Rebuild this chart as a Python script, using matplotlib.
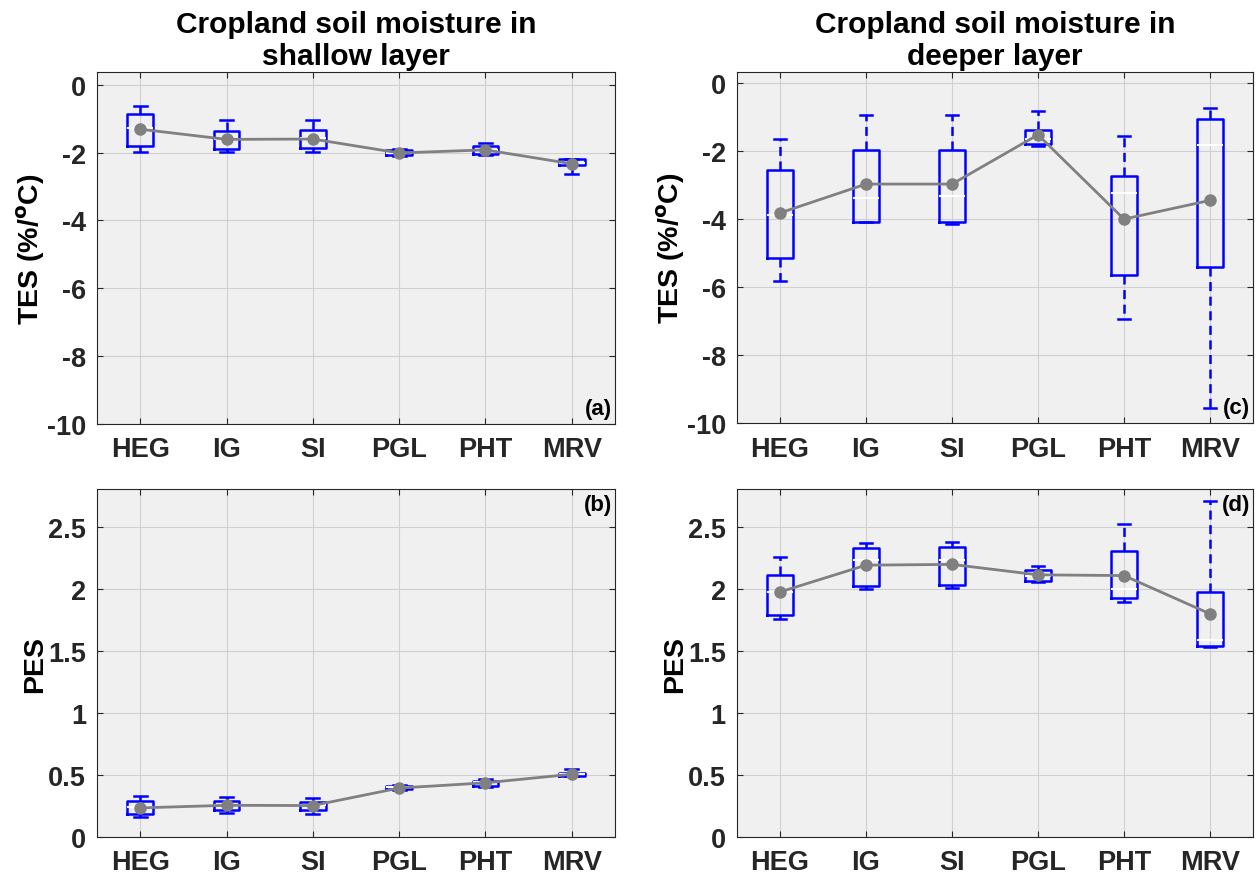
import numpy as np
import matplotlib
matplotlib.use('Agg')
import matplotlib.pyplot as plt

plt.rcParams['font.family'] = ['Liberation Sans', 'DejaVu Sans']
plt.rcParams['font.weight'] = 'bold'
plt.rcParams['mathtext.default'] = 'bf'
plt.rcParams['lines.scale_dashes'] = False

categories = ['HEG', 'IG', 'SI', 'PGL', 'PHT', 'MRV']

# (a) shallow layer TES
a_whishi = [-0.64, -1.05, -1.05, -1.90, -1.72, -2.18]
a_q3 = [-0.87, -1.35, -1.33, -1.93, -1.82, -2.20]
a_med = [-1.27, -1.60, -1.58, -2.00, -1.93, -2.30]
a_q1 = [-1.82, -1.89, -1.87, -2.07, -2.05, -2.38]
a_whislo = [-1.97, -1.99, -1.97, -2.09, -2.08, -2.63]
a_mean = [-1.31, -1.61, -1.60, -2.01, -1.92, -2.33]

# (b) shallow layer PES
b_whishi = [0.327, 0.319, 0.311, 0.42, 0.465, 0.55]
b_q3 = [0.287, 0.287, 0.279, 0.41, 0.452, 0.519]
b_med = [0.24, 0.26, 0.26, 0.40, 0.44, 0.51]
b_q1 = [0.186, 0.221, 0.218, 0.385, 0.412, 0.49]
b_whislo = [0.157, 0.194, 0.186, 0.38, 0.405, 0.487]
b_mean = [0.234, 0.255, 0.253, 0.394, 0.436, 0.505]

# (c) deeper layer TES
c_whishi = [-1.65, -0.93, -0.93, -0.81, -1.55, -0.74]
c_q3 = [-2.55, -1.98, -1.98, -1.37, -2.72, -1.05]
c_med = [-3.87, -3.38, -3.33, -1.65, -3.22, -1.82]
c_q1 = [-5.13, -4.09, -4.10, -1.79, -5.64, -5.41]
c_whislo = [-5.81, -4.09, -4.14, -1.86, -6.93, -9.56]
c_mean = [-3.82, -2.97, -2.97, -1.52, -4.00, -3.45]

# (d) deeper layer PES
d_whishi = [2.254, 2.37, 2.376, 2.18, 2.52, 2.708]
d_q3 = [2.111, 2.324, 2.332, 2.151, 2.30, 1.976]
d_med = [1.976, 2.227, 2.232, 2.10, 2.00, 1.585]
d_q1 = [1.789, 2.024, 2.032, 2.059, 1.924, 1.54]
d_whislo = [1.754, 1.997, 2.005, 2.055, 1.889, 1.53]
d_mean = [1.973, 2.189, 2.195, 2.111, 2.105, 1.797]

tes_ticks = [0, -2, -4, -6, -8, -10]
pes_ticks = [0, 0.5, 1, 1.5, 2, 2.5]

dark = '#262626'
blue = '#0000ff'

fig = plt.figure(figsize=(12.57, 8.78), dpi=100)

panels = [
    ([0.0772, 0.516, 0.412, 0.401], (a_whishi, a_q3, a_med, a_q1, a_whislo, a_mean),
     'TES (%/$^o$C)', (-10, 0.38), tes_ticks, '(a)', 'bottom',
     'Cropland soil moisture in\nshallow layer'),
    ([0.0772, 0.0456, 0.412, 0.396], (b_whishi, b_q3, b_med, b_q1, b_whislo, b_mean),
     'PES', (0, 2.8), pes_ticks, '(b)', 'top', None),
    ([0.5863, 0.517, 0.4105, 0.400], (c_whishi, c_q3, c_med, c_q1, c_whislo, c_mean),
     'TES (%/$^o$C)', (-10, 0.33), tes_ticks, '(c)', 'bottom',
     'Cropland soil moisture in\ndeeper layer'),
    ([0.5863, 0.0456, 0.4105, 0.396], (d_whishi, d_q3, d_med, d_q1, d_whislo, d_mean),
     'PES', (0, 2.8), pes_ticks, '(d)', 'top', None),
]

x = np.arange(1, len(categories) + 1)

for rect, vals, ylab, ylim, yticks, tag, tagpos, title in panels:
    whishi, q3, med, q1, whislo, mean = vals
    ax = fig.add_axes(rect)
    ax.set_facecolor('#f0f0f0')
    stats = []
    for i in range(len(categories)):
        stats.append({'whishi': whishi[i], 'q3': q3[i], 'med': med[i],
                      'q1': q1[i], 'whislo': whislo[i], 'fliers': []})
    ax.bxp(stats, positions=x, widths=0.3, capwidths=0.15, showfliers=False,
           boxprops=dict(color=blue, linewidth=1.8),
           whiskerprops=dict(color=blue, linewidth=1.8, linestyle=(0, (6.5, 4))),
           capprops=dict(color=blue, linewidth=1.8),
           medianprops=dict(color='white', linewidth=1.5), manage_ticks=False,
           zorder=3)
    ax.plot(x, mean, 'o-', color='#808080', linewidth=2, markersize=8, zorder=5)

    ax.set_xlim(0.5, 6.5)
    ax.set_ylim(*ylim)
    ax.set_xticks(x)
    ax.set_xticklabels(categories)
    ax.set_yticks(yticks)
    ax.set_yticklabels([('%g' % t) for t in yticks])
    ax.grid(True, color='#d0d0d0', linewidth=0.8, zorder=0)
    ax.set_axisbelow(True)
    ax.tick_params(direction='in', length=4, width=0.8, top=True, right=True,
                   labelsize=19.5, colors=dark)
    ax.tick_params(axis='x', pad=9)
    ax.tick_params(axis='y', pad=8)
    for s in ax.spines.values():
        s.set_color(dark)
        s.set_linewidth(0.8)
    ax.set_ylabel(ylab, fontsize=20.5, fontweight='bold', color='black', labelpad=0)
    if title:
        ax.set_title(title, fontsize=21.5, fontweight='bold', pad=6, linespacing=1.15)
    if tagpos == 'bottom':
        ax.text(0.995, 0.015, tag, transform=ax.transAxes, ha='right', va='bottom',
                fontsize=16, fontweight='bold')
    else:
        ax.text(0.995, 0.985, tag, transform=ax.transAxes, ha='right', va='top',
                fontsize=16, fontweight='bold')

plt.savefig('out.png', dpi=100)
